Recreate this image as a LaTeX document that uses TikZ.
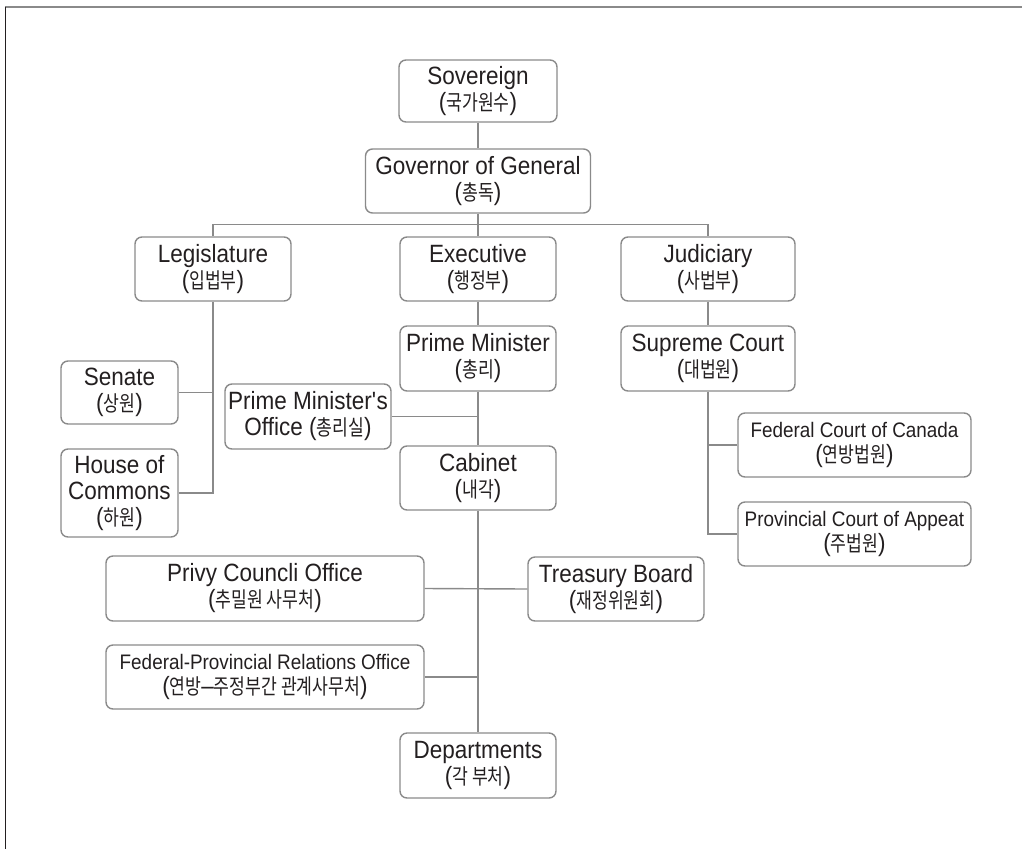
\documentclass[tikz,border=0pt]{standalone}
\usepackage{fontspec}
\setmainfont{Liberation Sans}[FakeStretch=0.9]
\newfontfamily\krfont{Noto Sans CJK KR}[Scale=0.86,FakeStretch=0.8]
\newcommand{\kor}[1]{{\krfont #1}}
\newcommand{\mainsize}{\fontsize{25}{26}\selectfont}
\usetikzlibrary{positioning}
\definecolor{boxline}{HTML}{8A8A8A}
\definecolor{inktext}{HTML}{231F20}
\tikzset{
  org/.style={draw=boxline, line width=1.4pt, rounded corners=7pt,
    align=center, inner sep=0pt, text=inktext,
    font=\mainsize}, % every box of the chart
  orgsmall/.style={org, font=\fontsize{21}{25}\selectfont},
  link/.style={draw=boxline, line width=1.4pt}, % the joining lines
}

\begin{document}
\begin{tikzpicture}[x=1pt, y=-1pt]
    \useasboundingbox (0,0) rectangle (1022,849);
    \draw[boxline, line width=2pt] (5,6.5) -- (1022,6.5);
    \draw[inktext, line width=1.5pt] (5.5,6.5) -- (5.5,849);

    \node[org, minimum width=158pt, minimum height=62pt] (sovereign) at (478,91)
      {Sovereign\\(\kor{국가원수})};
    \node[org, below of=sovereign, node distance=90pt, minimum width=225pt,
      minimum height=64pt] (governor) {Governor of General\\(\kor{총독})};
    \node[org, below of=governor, node distance=88pt, minimum width=156pt,
      minimum height=64pt] (executive) {Executive\\(\kor{행정부})};
    \node[org, left of=executive, node distance=265pt, minimum width=156pt,
      minimum height=64pt] (legislature) {Legislature\\(\kor{입법부})};
    \node[org, right of=executive, node distance=230pt, minimum width=174pt,
      minimum height=64pt] (judiciary) {Judiciary\\(\kor{사법부})};
    \node[org, below of=executive, node distance=89.5pt, minimum width=156pt,
      minimum height=65pt] (pm) {Prime Minister\\(\kor{총리})};
    \node[org, below of=judiciary, node distance=89.5pt, minimum width=174pt,
      minimum height=65pt] (supreme) {Supreme Court\\(\kor{대법원})};
    \node[org, minimum width=117pt, minimum height=63pt] (senate) at (119.5,392.5)
      {Senate\\(\kor{상원})};
    \node[org, minimum width=117pt, minimum height=88pt] (commons) at (119.5,493)
      {House of\\Commons\\(\kor{하원})};
    \node[org, minimum width=166pt, minimum height=65pt] (pmo) at (308,416.5)
      {Prime Minister\textquotesingle s\\Office (\kor{총리실})};
    \node[org, below of=pm, node distance=119.5pt, minimum width=156pt,
      minimum height=64pt] (cabinet) {Cabinet\\(\kor{내각})};
    \node[orgsmall, minimum width=233pt, minimum height=64pt] (federal) at (854.5,445)
      {Federal Court of Canada\\{\mainsize(\kor{연방법원})}};
    \node[orgsmall, below of=federal, node distance=89pt, minimum width=233pt,
      minimum height=64pt] (provincial)
      {Provincial Court of Appeat\\{\mainsize(\kor{주법원})}};
    \node[org, minimum width=318pt, minimum height=65pt] (privy) at (265,588.5)
      {Privy Councli Office\\(\kor{추밀원 사무처})};
    \node[org, minimum width=176pt, minimum height=64pt] (treasury) at (616,589)
      {Treasury Board\\(\kor{재정위원회})};
    \node[orgsmall, below of=privy, node distance=88.5pt, minimum width=318pt,
      minimum height=64pt] (fpro)
      {Federal-Provincial Relations Office\\{\mainsize(\kor{연방}–\kor{주정부간 관계사무처})}};
    \node[org, below of=cabinet, node distance=287.5pt, minimum width=156pt,
      minimum height=65pt] (departments) {Departments\\(\kor{각 부처})};

    % top of the tree
    \draw[link] (sovereign) -- (governor);
    \draw[link] (governor.south) -- ++(0,11) coordinate (bus);
    \draw[link] (legislature.north) |- (bus) -| (judiciary.north);
    \draw[link] (bus) -- (executive.north);

    % legislature
    \draw[link] (legislature.south) |- (commons.east);
    \draw[link] (senate.east) -- (senate.east -| legislature.south);

    % executive
    \draw[link] (executive) -- (pm);
    \draw[link] (pm) -- (cabinet);
    \draw[link] (pmo.east) -- (pmo.east -| pm.south);
    \draw[link] (cabinet) -- (departments);
    \draw[link] (privy.east) -- (treasury.west);
    \draw[link] (fpro.east) -- (fpro.east -| cabinet.south);

    % judiciary
    \draw[link] (judiciary) -- (supreme);
    \draw[link] (supreme.south) |- (provincial.west);
    \draw[link] (federal.west) -- (federal.west -| supreme.south);
\end{tikzpicture}
\end{document}
